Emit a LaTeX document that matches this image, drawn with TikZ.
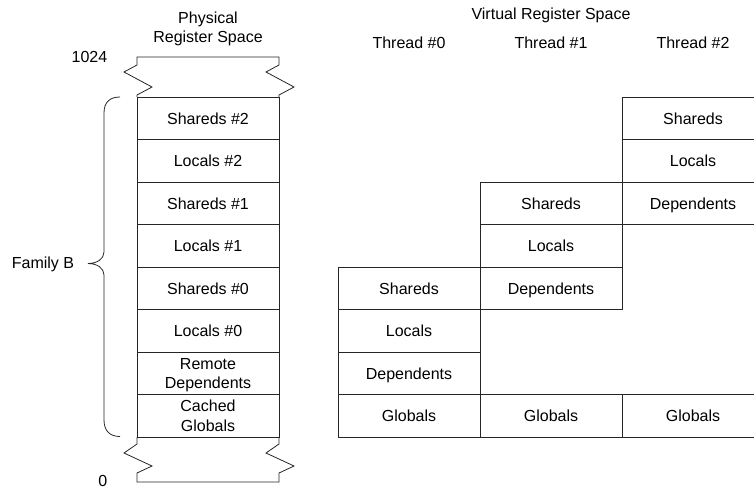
\documentclass[tikz,border=0pt]{standalone}
\usepackage{fontspec}
\setmainfont{Liberation Sans}
\begin{document}
\begin{tikzpicture}[x=1pt,y=-1pt,
  every node/.style={font=\fontsize{16}{19.5}\selectfont, inner sep=0pt},
  line/.style={line width=0.8pt, draw=black!85},
  cellbox/.style={line, draw, rectangle, minimum width=142pt, minimum height=42.5pt},
  cell/.style={cellbox, text height=11.5pt, text depth=0pt},
  cellpair/.style={cellbox, align=center, text depth=0pt},
  heading/.style={anchor=base, align=center}
]
\clip (0,0) rectangle (754,488);

% ---- physical register space column ----
\node[cell] (ps2) at (208,118.25) {Shareds \#2};
\node[cell] (pl2) at (208,160.75) {Locals \#2};
\node[cell] (ps1) at (208,203.25) {Shareds \#1};
\node[cell] (pl1) at (208,245.75) {Locals \#1};
\node[cell] (ps0) at (208,288.25) {Shareds \#0};
\node[cell] (pl0) at (208,330.75) {Locals \#0};
\node[cellpair] (prd) at (208,373.25) {Remote\\Dependents};
\node[cellpair] (pcg) at (208,415.75) {Cached\\Globals};

% broken ends of the column (top and bottom)
\draw[line, line join=miter]
  (137,97) -- (137,95) -- (152,87) -- (124,72) -- (137,65) -- (137,57)
  -- (279,57) -- (279,65) -- (266,72) -- (294,87) -- (279,95) -- (279,97);
\draw[line, line join=miter]
  (137,437) -- (137,444) -- (124,453) -- (152,466) -- (137,473) -- (137,482)
  -- (279,482) -- (279,473) -- (294,466) -- (266,453) -- (279,444) -- (279,437);

% headings and address marks
\node[heading] (phys) at (208,23.2) {Physical};
\node[heading] (regsp) at (208,42.7) {Register Space};
\node[anchor=base east] (top) at (107.5,62.2) {1024};
\node[anchor=base east] (bottom) at (107.5,486) {0};

% brace spanning the family
\draw[line]
  (120,97) .. controls (110,97) and (104,102) .. (104,113)
  -- (104,252) .. controls (104,259) and (97,263.5) .. (88,263.5)
  .. controls (97,263.5) and (104,268) .. (104,275)
  -- (104,420) .. controls (104,431) and (110,436.5) .. (120,436.5);
\node (fam) at (43,264) {Family B};

% ---- virtual register space ----
\node[heading] (virt) at (551,19.5) {Virtual Register Space};
\node[heading] (th0) at (409,48.5) {Thread \#0};
\node[heading] (th1) at (551,48.5) {Thread \#1};
\node[heading] (th2) at (693,48.5) {Thread \#2};

% thread 0
\node[cell] (g0) at (409,415.75) {Globals};
\node[cell] (d0) at (409,373.25) {Dependents};
\node[cell] (l0) at (409,330.75) {Locals};
\node[cell] (s0) at (409,288.25) {Shareds};
% thread 1
\node[cell] (g1) at (551,415.75) {Globals};
\node[cell] (d1) at (551,288.25) {Dependents};
\node[cell] (l1) at (551,245.75) {Locals};
\node[cell] (s1) at (551,203.25) {Shareds};
% thread 2
\node[cell] (g2) at (693,415.75) {Globals};
\node[cell] (d2) at (693,203.25) {Dependents};
\node[cell] (l2) at (693,160.75) {Locals};
\node[cell] (s2) at (693,118.25) {Shareds};
\end{tikzpicture}
\end{document}
